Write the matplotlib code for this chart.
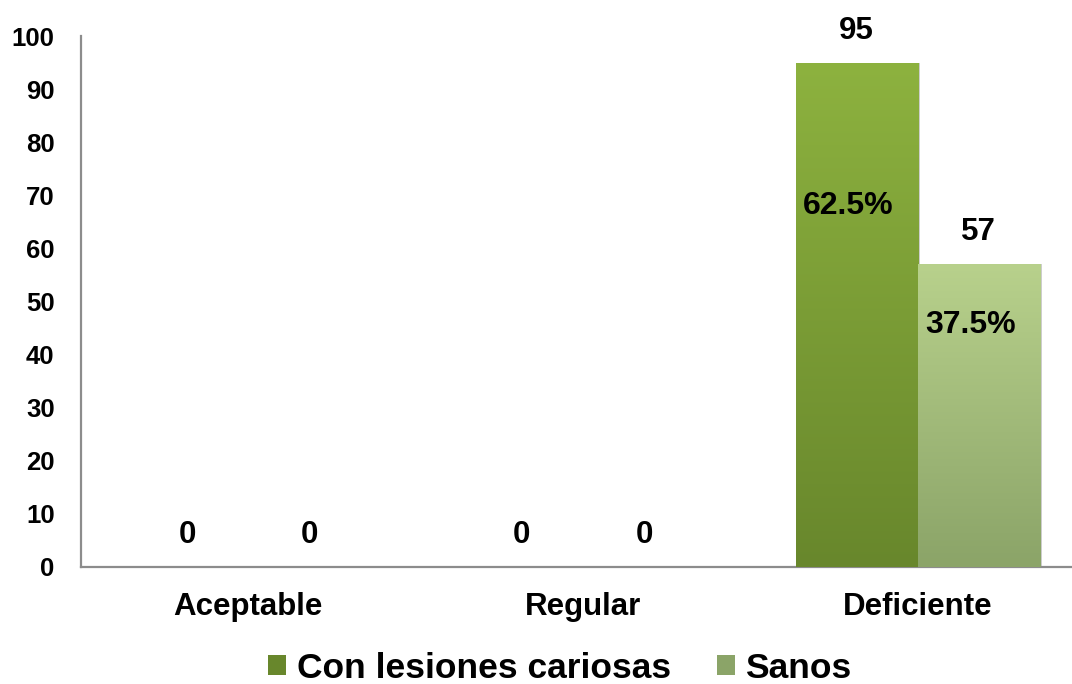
import numpy as np
import matplotlib.pyplot as plt
from matplotlib.patches import Patch
from matplotlib.colors import LinearSegmentedColormap

# --- data -----------------------------------------------------------------
categories = ["Aceptable", "Regular", "Deficiente"]
series_names = ["Con lesiones cariosas", "Sanos"]
con_lesiones = [0, 0, 95]
sanos = [0, 0, 57]
yticks = list(range(0, 101, 10))
# vertical placement (axis units) of the share labels inside the Deficiente bars
pct_label_y = [68, 45.5]

# --- style ----------------------------------------------------------------
plt.rcParams['font.family'] = ['Liberation Sans', 'DejaVu Sans']
plt.rcParams['font.weight'] = 'bold'

dark_green = ("#8DB23F", "#68872C")   # top, bottom of gradient
light_green = ("#B8D18C", "#8BA468")
axis_gray = "#8C8C8C"

fig = plt.figure(figsize=(10.72, 6.84), dpi=100)
W, H = 1072, 684
ax = fig.add_axes([81 / W, 1 - 567 / H, (1085 - 81) / W, (567 - 36) / H])

x = np.arange(len(categories))
bw = 0.365

series = [con_lesiones, sanos]
colors = [dark_green, light_green]
offsets = [-bw / 2, bw / 2]

grad = np.linspace(0, 1, 256).reshape(-1, 1)

for vals, (top_c, bot_c), off in zip(series, colors, offsets):
    bars = ax.bar(x + off, vals, width=bw, color=top_c, linewidth=0, zorder=2)
    cmap = LinearSegmentedColormap.from_list("g", [top_c, bot_c])
    for rect, v in zip(bars, vals):
        if v <= 0:
            continue
        x0 = rect.get_x()
        x1 = x0 + rect.get_width()
        im = ax.imshow(grad, extent=[x0, x1, 0, v], origin='upper', aspect='auto',
                       cmap=cmap, zorder=3, interpolation='bicubic')
        im.set_clip_path(rect)
        # faint shadow along the right edge
        ax.plot([x1 + 0.004, x1 + 0.004], [0, v], color="#C4C4C4", lw=1.2,
                zorder=1, solid_capstyle='butt')
    for xi, v in zip(x + off, vals):
        ax.annotate(f"{v}", (xi, v), xytext=(0, 23), textcoords='offset points',
                    ha='center', va='center', fontsize=22.5, fontweight='bold',
                    color='black', zorder=5)

# share of each series within the Deficiente group
total = con_lesiones[2] + sanos[2]
for vals, off, ly in zip(series, offsets, pct_label_y):
    pct = vals[2] / total * 100
    ax.annotate(f"{pct:.1f}%", (x[2] + off, ly), xytext=(-6, 0),
                textcoords='offset points', ha='center', va='center',
                fontsize=23, fontweight='bold', color='black', zorder=5)

ax.set_xlim(-0.5, len(categories) - 0.5)
ax.set_ylim(0, 100)
ax.set_yticks(yticks)
ax.set_yticklabels([str(t) for t in yticks], fontsize=18.5, fontweight='bold')
ax.tick_params(axis='both', length=0, colors='black')
ax.set_xticks(x)
ax.set_xticklabels(categories, fontsize=22.5, fontweight='bold')
ax.tick_params(axis='y', pad=19)
ax.tick_params(axis='x', pad=18)

for s in ('top', 'right'):
    ax.spines[s].set_visible(False)
for s in ('left', 'bottom'):
    ax.spines[s].set_color(axis_gray)
    ax.spines[s].set_linewidth(1.6)

handles = [Patch(facecolor=dark_green[1], edgecolor='none'),
           Patch(facecolor=light_green[1], edgecolor='none')]
fig.legend(handles, series_names, loc='center', bbox_to_anchor=(560 / W, 1 - 668 / H),
           ncol=2, frameon=False, handlelength=0.5, handleheight=0.5,
           handletextpad=0.3, columnspacing=1.3, prop={'weight': 'bold', 'size': 25.5})

fig.savefig("out.png", dpi=100, facecolor='white')
